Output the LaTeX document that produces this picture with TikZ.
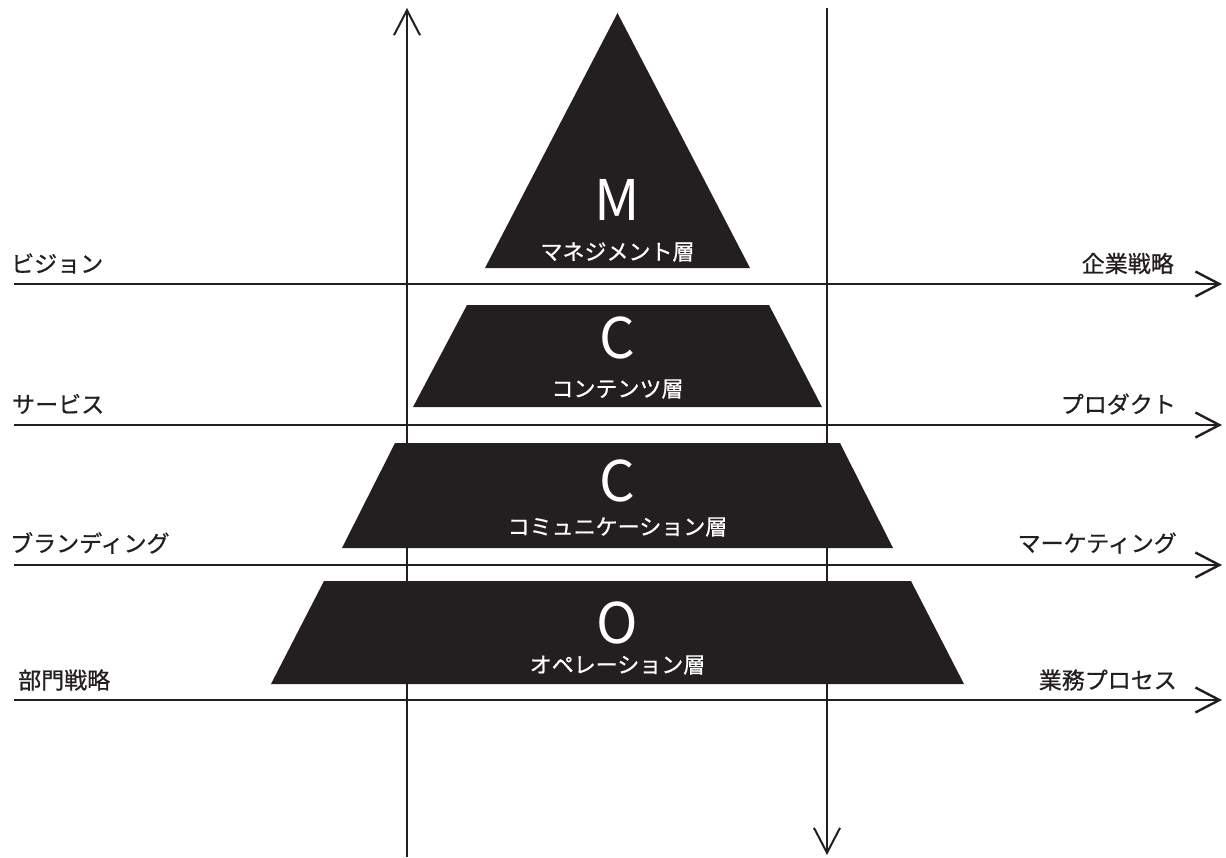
\documentclass[tikz,border=0pt]{standalone}
\usepackage{fontspec}
\setmainfont{Noto Sans CJK JP}
\newfontfamily\cjkmed[FakeBold=0.7]{Noto Sans CJK JP}
\newfontfamily\latinthin{Noto Sans CJK JP}
\usetikzlibrary{arrows.meta}
\definecolor{ink}{HTML}{231F20}
\begin{document}
\begin{tikzpicture}[x=1pt,y=-1pt,
  haxis/.style={draw=ink, line width=2.4pt, -{Straight Barb[length=24pt,width=25pt,line width=2.4pt]}},
  vaxis/.style={draw=ink, line width=2pt, -{Straight Barb[length=25pt,width=26pt,line width=2pt]}},
  layerfill/.style={fill=ink, draw=none},
  sidelbl/.style={inner sep=0pt, text=ink, font=\cjkmed\fontsize{23}{26}\selectfont},
  bigletter/.style={inner sep=0pt, text=white, font=\latinthin\fontsize{56}{60}\selectfont},
  layername/.style={inner sep=0pt, text=white, font=\cjkmed\fontsize{22}{24}\selectfont}]
\useasboundingbox (0,0) rectangle (1226,857);
% vertical axes
\coordinate (v1s) at (407,857);
\coordinate (v1e) at (407,8);
\coordinate (v2s) at (827,8);
\coordinate (v2e) at (827,855);
\draw[vaxis] (v1s) -- (v1e);
\draw[vaxis] (v2s) -- (v2e);
% horizontal axes
\foreach \y/\n in {284/a,425/b,565/c,700/d}{
  \coordinate (h\n s) at (14,\y);
  \coordinate (h\n e) at (1222,\y);
  \draw[haxis] (h\n s) -- (h\n e);
}
% layers
\fill[layerfill] (617.5,13) -- (750,268) -- (485,268) -- cycle;
\fill[layerfill] (467,305) -- (769,305) -- (822,407) -- (413,407) -- cycle;
\fill[layerfill] (395,443) -- (840,443) -- (893,548) -- (342,548) -- cycle;
\fill[layerfill] (324,581) -- (911,581) -- (964,684) -- (271,684) -- cycle;
% layer texts
\node[bigletter] (m) at (617.5,200) {M};
\node[layername] (mn) at (617.5,252) {マネジメント層};
\node[bigletter] (c1) at (617.5,338) {C};
\node[layername] (c1n) at (617.5,389) {コンテンツ層};
\node[bigletter] (c2) at (617.5,481) {C};
\node[layername] (c2n) at (617.5,527) {コミュニケーション層};
\node[bigletter] (o) at (617.5,623) {O};
\node[layername] (on) at (617.5,665) {オペレーション層};
% side labels
\node[sidelbl, anchor=west] (l1) at (11,263.5) {ビジョン};
\node[sidelbl, anchor=west] (l2) at (12,404) {サービス};
\node[sidelbl, anchor=west] (l3) at (10,543) {ブランディング};
\node[sidelbl, anchor=west] (l4) at (18,680) {部門戦略};
\node[sidelbl, anchor=east] (r1) at (1174,263.5) {企業戦略};
\node[sidelbl, anchor=east] (r2) at (1176,404) {プロダクト};
\node[sidelbl, anchor=east] (r3) at (1177,543) {マーケティング};
\node[sidelbl, anchor=east] (r4) at (1177,680) {業務プロセス};
\end{tikzpicture}
\end{document}
